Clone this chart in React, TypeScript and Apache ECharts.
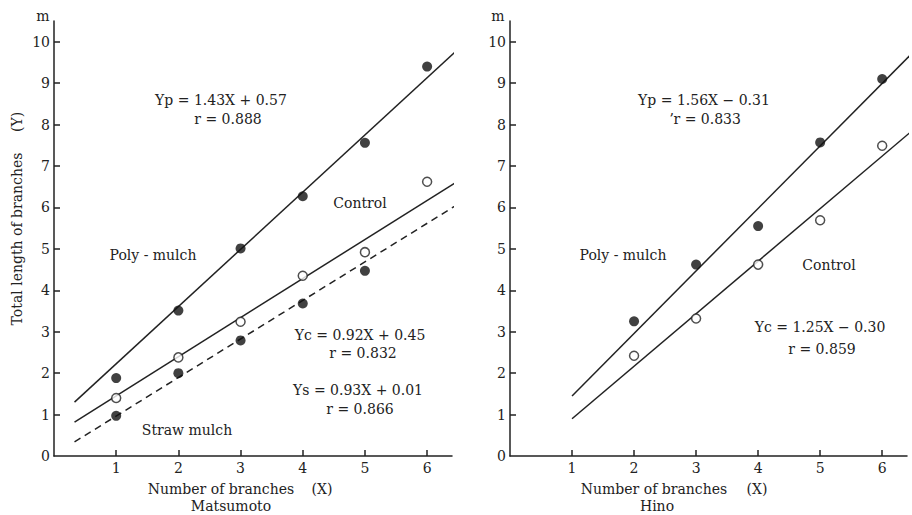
import React, { useEffect, useRef } from "react";
import * as echarts from "echarts";

// ---- data ----
const branchTicks = [1, 2, 3, 4, 5, 6];
const yLabelValues = [0, 1, 2, 3, 4, 5, 6, 7, 8, 9, 10];
const yTickValues = [1, 2, 3, 4, 5, 6, 7, 8, 9, 10];

// Matsumoto
const matsuPolyPts = [[1, 1.88], [2, 3.51], [3, 5.01], [4, 6.27], [5, 7.56], [6, 9.4]];
const matsuControlPts = [[1, 1.4], [2, 2.38], [3, 3.24], [4, 4.35], [5, 4.92], [6, 6.62]];
const matsuStrawPts = [[1, 0.97], [2, 2.0], [3, 2.79], [4, 3.68], [5, 4.47]];
const matsuPolyLine = [[0.33, 1.3], [6.52, 9.85]];
const matsuControlLine = [[0.33, 0.82], [6.52, 6.66]];
const matsuStrawLine = [[0.33, 0.34], [6.52, 6.1]];

// Hino
const hinoPolyPts = [[2, 3.25], [3, 4.62], [4, 5.55], [5, 7.57], [6, 9.1]];
const hinoControlPts = [[2, 2.42], [3, 3.32], [4, 4.62], [5, 5.69], [6, 7.49]];
const hinoPolyLine = [[1.0, 1.45], [6.6, 9.9]];
const hinoControlLine = [[1.0, 0.9], [6.6, 8.0]];

const FONT = '"DejaVu Serif", "Liberation Serif", serif';
const INK = "#222";

function xAxisCfg(gridIndex: number) {
  return {
    type: "value" as const,
    gridIndex,
    min: 0,
    max: 6.4,
    axisLine: { show: true, lineStyle: { color: INK, width: 1.5 } },
    axisTick: { show: true, inside: true, length: 6, customValues: branchTicks, lineStyle: { color: INK, width: 1.5 } },
    axisLabel: { customValues: branchTicks, margin: 5, fontSize: 14, fontFamily: FONT, color: INK },
    splitLine: { show: false },
  };
}

function yAxisCfg(gridIndex: number) {
  return {
    type: "value" as const,
    gridIndex,
    min: 0,
    max: 10.5,
    axisLine: { show: true, lineStyle: { color: INK, width: 1.5 } },
    axisTick: { show: true, inside: true, length: 6, customValues: yTickValues, lineStyle: { color: INK, width: 1.5 } },
    axisLabel: { customValues: yLabelValues, margin: 4, fontSize: 14, fontFamily: FONT, color: INK },
    splitLine: { show: false },
  };
}

function fitLine(data: number[][], idx: number, dashed = false) {
  return {
    type: "line" as const,
    xAxisIndex: idx,
    yAxisIndex: idx,
    data,
    symbol: "none",
    showSymbol: false,
    clip: false,
    z: 2,
    lineStyle: { color: INK, width: 1.5, type: dashed ? [7, 5] : "solid" },
  };
}

function dots(data: number[][], idx: number, open: boolean) {
  return {
    type: "scatter" as const,
    xAxisIndex: idx,
    yAxisIndex: idx,
    data,
    symbol: "circle",
    symbolSize: open ? 9 : 10,
    z: 5,
    itemStyle: open
      ? { color: "#fff", borderColor: INK, borderWidth: 1.5 }
      : { color: "#111", borderColor: "#111", borderWidth: 0 },
  };
}

function txt(text: string, x: number, y: number, extra: any = {}) {
  return {
    type: "text",
    x,
    y,
    ...extra,
    style: {
      text,
      fill: INK,
      font: `14px ${FONT}`,
      textAlign: "center",
      textVerticalAlign: "middle",
    },
  };
}

export default function App() {
  const ref = useRef<HTMLDivElement>(null);
  useEffect(() => {
    if (!ref.current) return;
    const chart = echarts.init(ref.current, undefined, { renderer: "svg" });
    chart.setOption({
      animation: false,
      backgroundColor: "#fff",
      grid: [
        { left: 54, top: 21, width: 398, height: 435 },
        { left: 510, top: 21, width: 397, height: 435 },
      ],
      xAxis: [xAxisCfg(0), xAxisCfg(1)],
      yAxis: [yAxisCfg(0), yAxisCfg(1)],
      series: [
        fitLine(matsuPolyLine, 0),
        fitLine(matsuControlLine, 0),
        fitLine(matsuStrawLine, 0, true),
        dots(matsuPolyPts, 0, false),
        dots(matsuControlPts, 0, true),
        dots(matsuStrawPts, 0, false),
        fitLine(hinoPolyLine, 1),
        fitLine(hinoControlLine, 1),
        dots(hinoPolyPts, 1, false),
        dots(hinoControlPts, 1, true),
      ],
      graphic: [
        txt("m", 43, 16, {}),
        txt("Total length of branches", 17, 239, { rotation: Math.PI / 2 }),
        txt("(Y)", 17, 122, { rotation: Math.PI / 2 }),
        txt("Yp = 1.43X + 0.57", 221, 100),
        txt("r = 0.888", 228, 119),
        txt("Control", 360, 203),
        txt("Poly - mulch", 153, 255),
        txt("Yc = 0.92X + 0.45", 360, 335),
        txt("r = 0.832", 363, 353),
        txt("Ys = 0.93X + 0.01", 358, 390),
        txt("r = 0.866", 360, 409),
        txt("Straw mulch", 187, 430),
        txt("Number of branches", 221, 489),
        txt("(X)", 322, 489),
        txt("Matsumoto", 231, 506),

        txt("m", 498, 16),
        txt("Yp = 1.56X \u2212 0.31", 704, 100),
        txt("\u02bcr = 0.833", 705, 119),
        txt("Poly - mulch", 623, 255),
        txt("Control", 829, 265),
        txt("Yc = 1.25X \u2212 0.30", 820, 327),
        txt("r = 0.859", 822, 349),
        txt("Number of branches", 654, 489),
        txt("(X)", 757, 489),
        txt("Hino", 657, 506),
      ],
    });
    return () => chart.dispose();
  }, []);
  return (
    <div
      ref={ref}
      style={{ position: "fixed", left: 0, top: 0, width: 912, height: 515, background: "#fff" }}
    />
  );
}
